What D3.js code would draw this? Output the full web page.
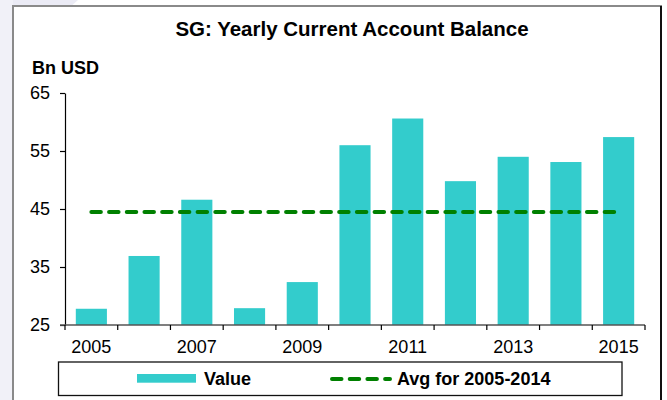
<!DOCTYPE html>
<html>
<head>
<meta charset="utf-8">
<script src="https://cdn.jsdelivr.net/npm/d3@7"></script>
<style>
  body { margin: 0; background: #fff; }
  text { font-family: "Liberation Sans", Arial, sans-serif; }
</style>
</head>
<body>
<div id="chart"></div>
<script>
// data (Bn USD)
var years = [2005, 2006, 2007, 2008, 2009, 2010, 2011, 2012, 2013, 2014, 2015];
var values = [27.8, 36.9, 46.6, 27.9, 32.4, 56.0, 60.6, 49.8, 54.0, 53.1, 57.4];
var avgValue = 44.5; // avg for 2005-2014
var yTicks = [25, 35, 45, 55, 65];
var labelYears = [2005, 2007, 2009, 2011, 2013, 2015];

var width = 667, height = 400;
var barColor = "#33cccc";
var avgColor = "#008000";

var svg = d3.select("#chart").append("svg")
  .attr("width", width)
  .attr("height", height);

// faint slide background top-left
svg.append("path")
  .attr("d", "M0,0 L78,0 Q30,40 0,150 Z")
  .attr("fill", "#ebebf5");
svg.append("rect")
  .attr("x", 0).attr("y", 0).attr("width", 13).attr("height", height)
  .attr("fill", "#f1f1f8");

// frame
svg.append("rect")
  .attr("x", 13).attr("y", 6)
  .attr("width", 648).attr("height", 420)
  .attr("fill", "#fff")
  .attr("stroke", "#8a8a8a")
  .attr("stroke-width", 2);
svg.append("line")
  .attr("x1", 661).attr("x2", 661).attr("y1", 6).attr("y2", height)
  .attr("stroke", "#111").attr("stroke-width", 2);

// title
svg.append("text")
  .attr("x", 352).attr("y", 36)
  .attr("text-anchor", "middle")
  .style("font-size", "20.5px").style("font-weight", "bold")
  .text("SG: Yearly Current Account Balance");

svg.append("text")
  .attr("x", 32).attr("y", 74)
  .style("font-size", "18px").style("font-weight", "bold")
  .text("Bn USD");

// scales
var x = d3.scaleBand()
  .domain(years)
  .range([65, 645])
  .paddingInner(0.41)
  .paddingOuter(0.205);

var y = d3.scaleLinear()
  .domain([25, 65])
  .range([325, 93]);

// bars
svg.append("g").selectAll("rect")
  .data(values)
  .enter().append("rect")
  .attr("x", function(d, i) { return x(years[i]); })
  .attr("y", function(d) { return y(d); })
  .attr("width", x.bandwidth())
  .attr("height", function(d) { return y(25) - y(d); })
  .attr("fill", barColor);

// y axis
var yAxis = svg.append("g")
  .attr("transform", "translate(65,0)")
  .call(d3.axisLeft(y).tickValues(yTicks).tickSize(5).tickSizeOuter(0).tickPadding(10));
yAxis.selectAll("text")
  .style("font-size", "18px")
  .style("font-family", "'Liberation Sans', Arial, sans-serif")
  .attr("fill", "#000");
yAxis.selectAll("line, path").attr("stroke", "#000").attr("stroke-width", 1.2);

// x axis: line, boundary ticks, odd-year labels
var xAxis = svg.append("g")
  .attr("transform", "translate(0,325)");
xAxis.append("line")
  .attr("x1", 60).attr("x2", 645)
  .attr("stroke", "#555").attr("stroke-width", 1.5);

var step = x.step();
var bounds = years.map(function(d) { return x(d) - step * x.paddingInner() / 2; });
bounds.push(x(years[years.length - 1]) + x.bandwidth() + step * x.paddingInner() / 2);
xAxis.selectAll(".bt")
  .data(bounds)
  .enter().append("line")
  .attr("x1", function(d) { return d; })
  .attr("x2", function(d) { return d; })
  .attr("y1", 0).attr("y2", 5)
  .attr("stroke", "#000").attr("stroke-width", 1.2);

xAxis.selectAll(".lbl")
  .data(labelYears)
  .enter().append("text")
  .attr("x", function(d) { return x(d) + x.bandwidth() / 2; })
  .attr("y", 27.7)
  .attr("text-anchor", "middle")
  .style("font-size", "18px")
  .text(function(d) { return d; });

// average line
var dash = "9.5,8.2";
svg.append("line")
  .attr("x1", x(years[0]) + x.bandwidth() / 2)
  .attr("x2", x(years[years.length - 1]) + x.bandwidth() / 2 - 2)
  .attr("y1", y(avgValue)).attr("y2", y(avgValue))
  .attr("stroke", avgColor)
  .attr("stroke-width", 4)
  .attr("stroke-linecap", "round")
  .attr("stroke-dasharray", dash);

// legend
var legend = svg.append("g");
legend.append("rect")
  .attr("x", 58.5).attr("y", 362)
  .attr("width", 563.5).attr("height", 33.5)
  .attr("fill", "#fff")
  .attr("stroke", "#111").attr("stroke-width", 1.3);
legend.append("rect")
  .attr("x", 137).attr("y", 374)
  .attr("width", 59).attr("height", 8.7)
  .attr("fill", barColor);
legend.append("text")
  .attr("x", 204).attr("y", 385)
  .style("font-size", "18px").style("font-weight", "bold")
  .text("Value");
legend.append("line")
  .attr("x1", 332).attr("x2", 390)
  .attr("y1", 379).attr("y2", 379)
  .attr("stroke", avgColor)
  .attr("stroke-width", 4)
  .attr("stroke-linecap", "round")
  .attr("stroke-dasharray", dash);
legend.append("text")
  .attr("x", 397).attr("y", 385)
  .style("font-size", "18px").style("font-weight", "bold")
  .text("Avg for 2005-2014");
</script>
</body>
</html>
